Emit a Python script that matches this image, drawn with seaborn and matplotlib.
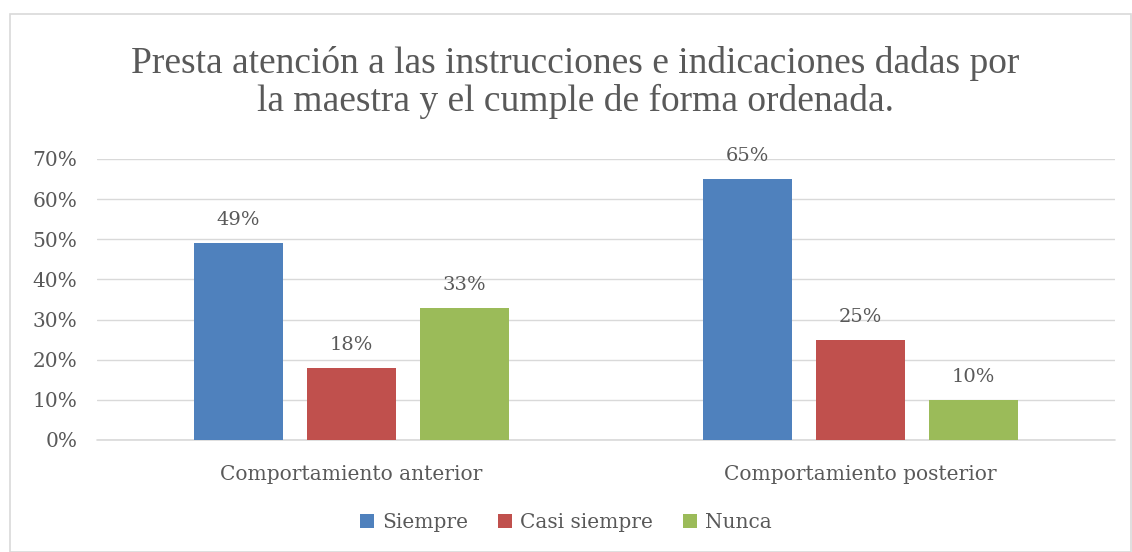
import pandas as pd
import matplotlib
matplotlib.use("Agg")
import matplotlib.pyplot as plt
import seaborn as sns
from matplotlib.patches import Rectangle
from matplotlib.ticker import PercentFormatter

# datos del gráfico
grupos = ["Comportamiento anterior", "Comportamiento posterior"]
respuestas = ["Siempre", "Casi siempre", "Nunca"]
siempre = [0.49, 0.65]
casi_siempre = [0.18, 0.25]
nunca = [0.33, 0.10]
colores = ["#4F81BD", "#C0504D", "#9BBB59"]

df = pd.DataFrame({
    "grupo": grupos * 3,
    "respuesta": [r for r in respuestas for _ in grupos],
    "valor": siempre + casi_siempre + nunca,
})

sns.set_theme(style="white")
plt.rcParams["font.family"] = ["DejaVu Serif"]
gris = "#595959"

fig = plt.figure(figsize=(11.32, 5.52), dpi=100)
ax = fig.add_axes([0.0857, 0.2029, 0.8993, 0.5091])

sns.barplot(data=df, x="grupo", y="valor", hue="respuesta", order=grupos,
            hue_order=respuestas, palette=colores, width=0.667, gap=0.21,
            saturation=1, linewidth=0, ax=ax)

for cont in ax.containers:
    ax.bar_label(cont, labels=[f"{v*100:.0f}%" for v in cont.datavalues],
                 padding=10, color=gris, fontsize=14)

ax.set_ylim(0, 0.70)
ax.set_yticks([i / 10 for i in range(8)])
ax.yaxis.set_major_formatter(PercentFormatter(1.0, decimals=0))
ax.set_xlim(-0.5, 1.5)
ax.grid(axis="y", color="#D9D9D9", linewidth=1)
ax.axhline(0, color="#D9D9D9", linewidth=1.2, clip_on=False, zorder=0.5)
ax.set_axisbelow(True)
for s in ax.spines.values():
    s.set_visible(False)
ax.tick_params(axis="both", length=0, colors=gris, labelsize=14.5)
ax.tick_params(axis="x", pad=18)
ax.tick_params(axis="y", pad=14)
ax.set_xlabel("")
ax.set_ylabel("")

ax.legend(loc="center", bbox_to_anchor=(0.5, 0.053), bbox_transform=fig.transFigure,
          ncol=3, frameon=False, fontsize=14.5, labelcolor=gris,
          handlelength=0.7, handleheight=0.7, columnspacing=1.5, handletextpad=0.4)

fig.text(0.508, 0.850, "Presta atención a las instrucciones e indicaciones dadas por\n"
         "la maestra y el cumple de forma ordenada.",
         ha="center", va="center", fontsize=27, color=gris,
         family=["Liberation Serif"], linespacing=1.1)

fig.patches.append(Rectangle((0.009, 0.0), 0.99, 0.975, transform=fig.transFigure,
                             fill=False, edgecolor="#D9D9D9", linewidth=1.2))

fig.savefig("out.png", dpi=100)
